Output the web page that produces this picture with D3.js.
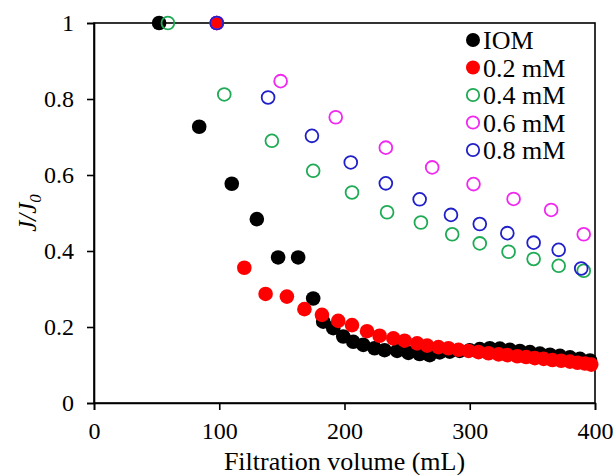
<!DOCTYPE html>
<html>
<head>
  <script src="https://d3js.org/d3.v7.min.js"></script>
  <style>
    body { margin: 0; background: #fff; }
    text { font-family: "Liberation Serif", "Times New Roman", serif; fill: #000; }
  </style>
</head>
<body>
  <script>
    // data
    const iomX = [52, 84, 110, 130, 147, 163, 175, 183, 191, 199, 207, 215, 224, 232, 242, 251, 260, 268, 276, 284, 292, 300, 308, 316, 324, 332, 340, 348, 356, 364, 372, 380, 388, 396];
    const iomY = [1, 0.727, 0.577, 0.484, 0.383, 0.383, 0.275, 0.214, 0.197, 0.175, 0.161, 0.153, 0.144, 0.139, 0.137, 0.132, 0.129, 0.126, 0.133, 0.135, 0.137, 0.139, 0.142, 0.144, 0.143, 0.140, 0.137, 0.134, 0.130, 0.127, 0.124, 0.120, 0.116, 0.112];

    const m02X = [98, 120, 137, 154, 168, 182, 195, 206, 218, 228, 239, 248, 258, 266, 275, 283, 291, 299, 307, 315, 323, 330, 338, 345, 352, 359, 366, 373, 380, 386, 392, 397];
    const m02Y = [1, 0.356, 0.287, 0.280, 0.247, 0.232, 0.216, 0.205, 0.189, 0.177, 0.170, 0.164, 0.157, 0.151, 0.147, 0.144, 0.140, 0.137, 0.134, 0.131, 0.128, 0.126, 0.123, 0.121, 0.118, 0.116, 0.113, 0.111, 0.109, 0.106, 0.104, 0.101];

    const m04X = [59, 104, 142, 175, 206, 234, 261, 286, 308, 331, 351, 371, 391];
    const m04Y = [1, 0.812, 0.690, 0.611, 0.554, 0.502, 0.475, 0.444, 0.420, 0.398, 0.379, 0.361, 0.348];

    const m06X = [98, 149, 193, 233, 270, 303, 335, 365, 391];
    const m06Y = [1, 0.847, 0.752, 0.672, 0.620, 0.576, 0.537, 0.508, 0.444];

    const m08X = [98, 139, 174, 205, 233, 260, 285, 308, 330, 351, 371, 389];
    const m08Y = [1, 0.804, 0.703, 0.633, 0.578, 0.536, 0.495, 0.471, 0.447, 0.422, 0.403, 0.354];

    const xTicks = [0, 100, 200, 300, 400];
    const yTicks = [0, 0.2, 0.4, 0.6, 0.8, 1];

    const series = [
      { name: "IOM",    xs: iomX, ys: iomY, color: "#000000", filled: true },
      { name: "0.2 mM", xs: m02X, ys: m02Y, color: "#ff0000", filled: true },
      { name: "0.4 mM", xs: m04X, ys: m04Y, color: "#1faa55", filled: false },
      { name: "0.6 mM", xs: m06X, ys: m06Y, color: "#f028f0", filled: false },
      { name: "0.8 mM", xs: m08X, ys: m08Y, color: "#2020c8", filled: false }
    ];

    const width = 616, height = 475;
    const margin = { left: 94, right: 21, top: 23, bottom: 72 };

    const svg = d3.select("body").append("svg")
      .attr("width", width)
      .attr("height", height);

    const x = d3.scaleLinear().domain([0, 400]).range([margin.left, width - margin.right]);
    const y = d3.scaleLinear().domain([0, 1]).range([height - margin.bottom, margin.top]);

    // frame
    svg.append("rect")
      .attr("x", x(0)).attr("y", y(1))
      .attr("width", x(400) - x(0)).attr("height", y(0) - y(1))
      .attr("fill", "none").attr("stroke", "#000").attr("stroke-width", 1.6);

    const xAxis = svg.append("g")
      .attr("transform", `translate(0,${y(0)})`)
      .call(d3.axisBottom(x).tickValues(xTicks).tickSize(7).tickPadding(12).tickFormat(d3.format("d")));

    const yAxis = svg.append("g")
      .attr("transform", `translate(${x(0)},0)`)
      .call(d3.axisLeft(y).tickValues(yTicks).tickSize(7).tickPadding(13).tickFormat(d => d === 0 || d === 1 ? d : d3.format(".1f")(d)));

    [xAxis, yAxis].forEach(g => {
      g.select(".domain").attr("stroke", "#000").attr("stroke-width", 1.6);
      g.selectAll(".tick line").attr("stroke", "#000").attr("stroke-width", 1.6);
      g.selectAll(".tick text")
        .attr("font-family", "Liberation Serif")
        .attr("font-size", 24)
        .attr("fill", "#000");
    });

    // points
    series.forEach(s => {
      const pts = s.xs.map((v, i) => [v, s.ys[i]]);
      svg.append("g")
        .selectAll("circle")
        .data(pts)
        .enter().append("circle")
        .attr("cx", d => x(d[0]))
        .attr("cy", d => y(d[1]))
        .attr("r", s.filled ? 7.3 : 6.4)
        .attr("fill", s.filled ? s.color : "none")
        .attr("stroke", s.filled ? "none" : s.color)
        .attr("stroke-width", 1.8);
    });

    // legend
    const legend = svg.append("g").attr("transform", "translate(473,40)");
    series.forEach((s, i) => {
      const row = legend.append("g").attr("transform", `translate(0,${i * 27.5})`);
      row.append("circle")
        .attr("r", s.filled ? 7 : 6.2)
        .attr("fill", s.filled ? s.color : "none")
        .attr("stroke", s.filled ? "none" : s.color)
        .attr("stroke-width", 1.8);
      row.append("text")
        .attr("x", 10)
        .attr("dy", "0.35em")
        .attr("font-size", 26)
        .text(s.name);
    });

    // axis titles
    svg.append("text")
      .attr("x", (x(0) + x(400)) / 2)
      .attr("y", 470)
      .attr("text-anchor", "middle")
      .attr("font-size", 26)
      .text("Filtration volume (mL)");

    const yl = svg.append("text")
      .attr("transform", `translate(36,${(y(0) + y(1)) / 2}) rotate(-90)`)
      .attr("text-anchor", "middle")
      .attr("font-size", 25)
      .attr("font-style", "italic");
    yl.append("tspan").text("J/J");
    yl.append("tspan").attr("font-size", 17).attr("dy", 5).text("0");
  </script>
</body>
</html>
